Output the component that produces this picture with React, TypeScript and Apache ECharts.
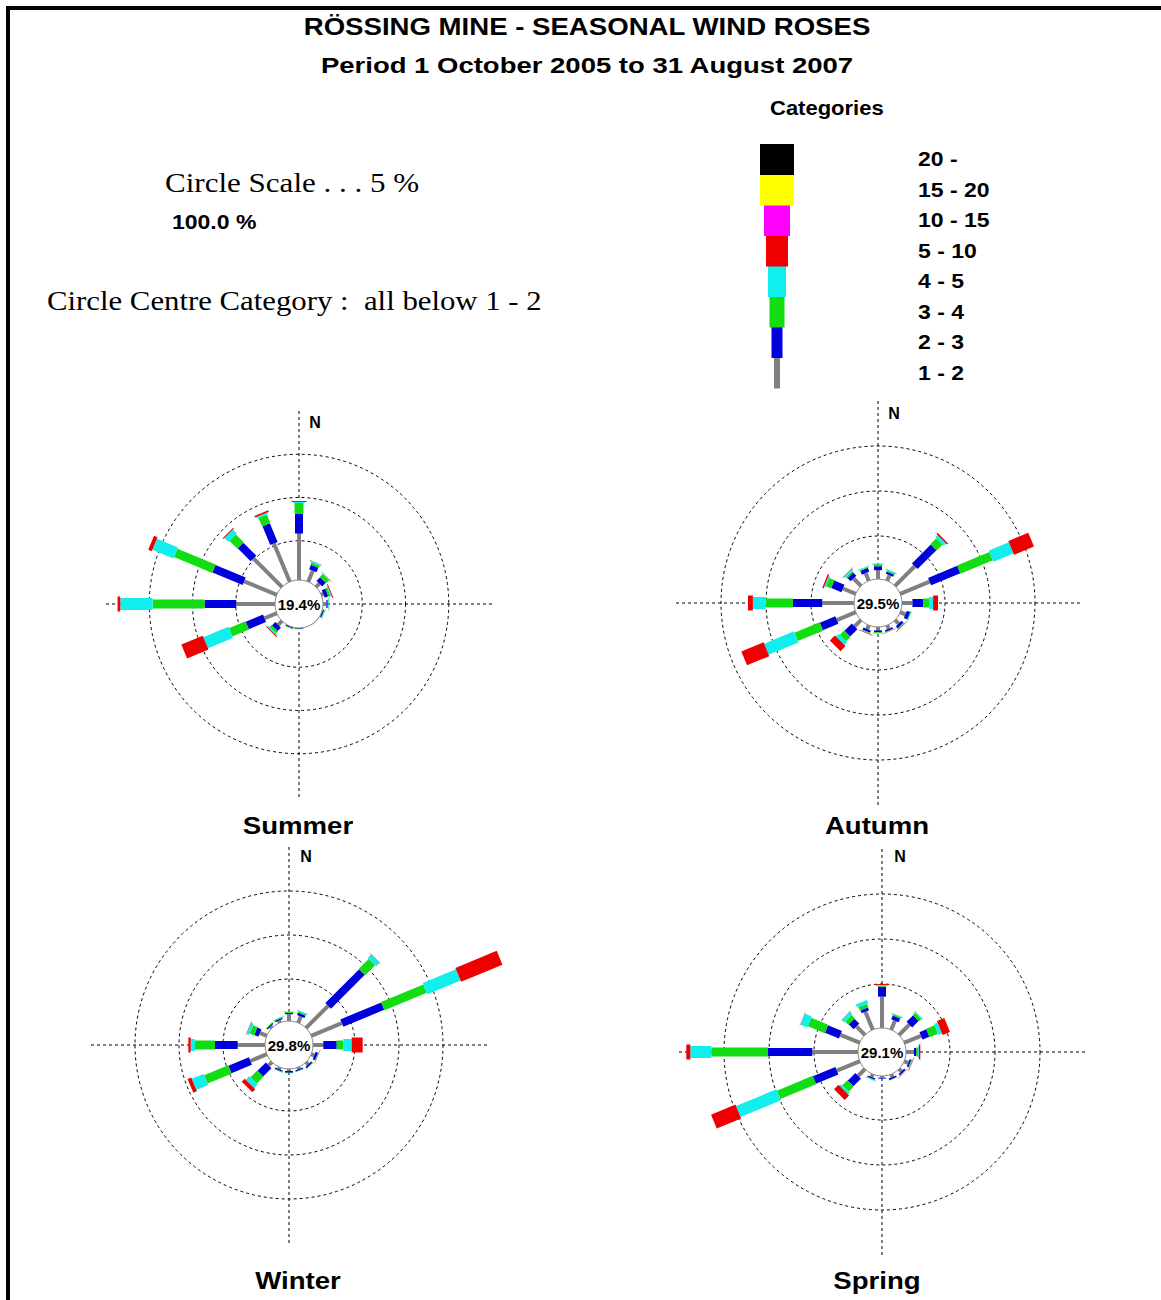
import React, { useEffect, useRef } from 'react';
import * as echarts from 'echarts';

// ---------- data ----------
const DIRECTIONS = ['N', 'NNE', 'NE', 'ENE', 'E', 'ESE', 'SE', 'SSE', 'S', 'SSW', 'SW', 'WSW', 'W', 'WNW', 'NW', 'NNW'];
const SPEED_CATEGORIES = ['1 - 2', '2 - 3', '3 - 4', '4 - 5', '5 - 10', '10 - 15', '15 - 20', '20 -'];
const SEASONS = ['Summer', 'Autumn', 'Winter', 'Spring'];
const CALM_PERCENT = [19.4, 29.5, 29.8, 29.1];

// rows: N..NNW ; columns: 1-2, 2-3, 3-4, 4-5, 5-10 (% of time)
const SUMMER = [
  [5.83, 2.31, 1.23, 0.12, 0.11],
  [1.85, 0.57, 0.28, 0.15, 0.03],
  [1.01, 0.6, 0.48, 0.08, 0.02],
  [0.73, 0.44, 0.25, 0.12, 0.1],
  [0.85, 0.15, 0.1, 0.05, 0.02],
  [0.5, 0.15, 0.1, 0.05, 0],
  [0.35, 0.1, 0.05, 0, 0],
  [0.3, 0.1, 0, 0, 0],
  [0.4, 0.15, 0.05, 0, 0],
  [0.45, 0.15, 0.05, 0.02, 0],
  [1.1, 0.55, 0.3, 0.2, 0.1],
  [2.0, 2.17, 2.08, 3.12, 2.68],
  [4.94, 3.66, 6.01, 3.74, 0.31],
  [4.55, 3.78, 4.78, 2.64, 0.44],
  [5.13, 2.12, 1.28, 0.65, 0.12],
  [5.27, 2.33, 1.07, 0.2, 0.2],
];
const AUTUMN = [
  [1.2, 0.44, 0.22, 0.08, 0],
  [0.9, 0.25, 0.15, 0.12, 0],
  [3.33, 2.96, 0.94, 0.35, 0.17],
  [3.76, 3.51, 3.89, 2.41, 2.4],
  [1.38, 1.19, 0.66, 0.45, 0.55],
  [0.85, 0.4, 0.1, 0.05, 0],
  [0.8, 0.3, 0.1, 0.05, 0.05],
  [0.65, 0.2, 0.05, 0.03, 0.03],
  [0.6, 0.2, 0.1, 0.05, 0],
  [0.7, 0.25, 0.1, 0.05, 0.05],
  [1.23, 1.15, 0.69, 0.42, 0.8],
  [2.51, 1.86, 3.03, 3.57, 2.68],
  [3.75, 3.26, 3.04, 1.41, 0.55],
  [1.77, 1.23, 0.62, 0.15, 0.16],
  [1.4, 0.5, 0.2, 0.2, 0.05],
  [1.15, 0.45, 0.1, 0.1, 0],
];
const WINTER = [
  [1.0, 0.15, 0.1, 0.05, 0],
  [1.0, 0.3, 0.15, 0.1, 0],
  [3.79, 5.44, 1.61, 0.52, 0.05],
  [4.0, 5.03, 5.21, 4.08, 5.08],
  [1.4, 1.52, 0.75, 0.95, 1.25],
  [0.6, 0.3, 0.05, 0.03, 0.03],
  [0.6, 0.2, 0.05, 0.03, 0],
  [0.45, 0.15, 0.05, 0, 0],
  [0.45, 0.2, 0.05, 0, 0],
  [0.45, 0.15, 0.1, 0, 0],
  [0.77, 1.34, 1.07, 0.59, 0.47],
  [2.25, 2.52, 2.96, 1.45, 0.44],
  [3.33, 2.58, 2.27, 0.49, 0.27],
  [1.08, 0.5, 0.55, 0.3, 0.05],
  [0.45, 0.15, 0.1, 0, 0],
  [0.5, 0.15, 0.1, 0.05, 0],
];
const SPRING = [
  [3.59, 1.11, 0.1, 0.1, 0.1],
  [1.2, 0.45, 0.15, 0.1, 0],
  [1.74, 1.04, 0.35, 0.13, 0],
  [2.13, 0.83, 1.02, 0.42, 0.88],
  [1.0, 0.26, 0.18, 0.1, 0.16],
  [0.6, 0.2, 0.1, 0.05, 0.05],
  [0.5, 0.2, 0.05, 0.03, 0.03],
  [0.45, 0.2, 0.05, 0, 0],
  [0.3, 0.1, 0, 0, 0],
  [0.45, 0.15, 0.1, 0.05, 0],
  [1.19, 1.21, 0.79, 0.25, 0.71],
  [2.87, 2.71, 4.3, 4.85, 2.93],
  [5.19, 4.92, 6.3, 2.33, 0.45],
  [2.44, 1.68, 2.04, 0.83, 0.03],
  [1.46, 0.78, 0.5, 0.4, 0.02],
  [2.28, 0.35, 0.4, 0.4, 0.02],
];
const SEASON_DATA = [SUMMER, AUTUMN, WINTER, SPRING];

const RING_INTERVAL = 5; // Circle scale 5 %
const AXIS_MAX = 20;

// ---------- styles / layout ----------
const CAT_COLORS = ['#808080', '#0000dd', '#11dd11', '#11eeee', '#ee0000', '#ff00ff', '#ffff00', '#000000'];
const SEG_WIDTH = [4, 8, 9, 12, 15, 17, 19, 21];
const LEGEND_WIDTH = [6, 11, 15, 18, 22, 26, 34, 34];
const ROSES = [
  { cx: 299, cy: 604, r0: 20, k: 8.65, label: [298, 826], n: [315, 422] },
  { cx: 878, cy: 603, r0: 22, k: 9.0, label: [877, 826], n: [894, 413] },
  { cx: 289, cy: 1045, r0: 22, k: 8.8, label: [298, 1281], n: [306, 856] },
  { cx: 882, cy: 1052, r0: 23, k: 9.0, label: [877, 1281], n: [900, 856] },
];
const CALM_R = 24;
const SANS = '"Liberation Sans", Arial, sans-serif';
const SERIF = '"Liberation Serif", "Times New Roman", serif';
const DASH = [3, 3];

function txt(text: string, x: number, y: number, font: string, align: string, scaleX = 1) {
  return {
    type: 'text',
    x,
    y,
    scaleX,
    style: {
      text,
      x: 0,
      y: 0,
      font,
      fill: '#000',
      align,
      textAlign: align,
      verticalAlign: 'middle',
      textVerticalAlign: 'middle',
    },
    silent: true,
  };
}

function buildOption() {
  const polar = ROSES.map((r) => ({ center: [r.cx, r.cy], radius: [r.r0, r.r0 + AXIS_MAX * r.k] }));
  const angleAxis = ROSES.map((_, i) => ({
    polarIndex: i,
    type: 'value',
    min: 0,
    max: 360,
    interval: 90,
    startAngle: 90,
    clockwise: true,
    axisLine: { show: false },
    axisTick: { show: false },
    axisLabel: { show: false },
    splitLine: { show: true, lineStyle: { color: '#000', width: 1, type: DASH } },
  }));
  const radiusAxis = ROSES.map((_, i) => ({
    polarIndex: i,
    type: 'value',
    min: 0,
    max: AXIS_MAX,
    interval: RING_INTERVAL,
    axisLine: { show: false },
    axisTick: { show: false },
    axisLabel: { show: false },
    splitLine: {
      show: true,
      lineStyle: {
        color: ['rgba(0,0,0,0)', '#000', '#000', '#000', 'rgba(0,0,0,0)'],
        width: 1,
        type: DASH,
      },
    },
  }));

  const renderSegment = (params: any, api: any) => {
    const a = api.value(0);
    const ang = api.value(1);
    const b = api.value(2);
    const cat = api.value(3);
    const p1 = api.coord([a, ang]);
    const p2 = api.coord([b, ang]);
    const dx = p2[0] - p1[0];
    const dy = p2[1] - p1[1];
    const len = Math.hypot(dx, dy);
    if (len < 0.01) return null;
    const hw = SEG_WIDTH[cat] / 2;
    const nx = (-dy / len) * hw;
    const ny = (dx / len) * hw;
    return {
      type: 'polygon',
      shape: {
        points: [
          [p1[0] + nx, p1[1] + ny],
          [p2[0] + nx, p2[1] + ny],
          [p2[0] - nx, p2[1] - ny],
          [p1[0] - nx, p1[1] - ny],
        ],
      },
      style: { fill: CAT_COLORS[cat] },
    };
  };

  const renderCalm = (params: any, api: any) => {
    const p0 = api.coord([0, 0]);
    const p1 = api.coord([0, 180]);
    const cx = (p0[0] + p1[0]) / 2;
    const cy = (p0[1] + p1[1]) / 2;
    const v = api.value(2);
    return {
      type: 'group',
      children: [
        { type: 'circle', shape: { cx, cy, r: CALM_R }, style: { fill: '#fff', stroke: '#8a8a8a', lineWidth: 1 } },
        {
          type: 'text',
          style: {
            text: v.toFixed(1) + '%',
            x: cx,
            y: cy,
            align: 'center',
            verticalAlign: 'middle',
            font: 'bold 15px ' + SANS,
            fill: '#000',
          },
        },
      ],
    };
  };

  const series: any[] = [];
  SEASON_DATA.forEach((rows, s) => {
    const segs: number[][] = [];
    rows.forEach((row, d) => {
      const angle = (360 / DIRECTIONS.length) * d;
      let cum = 0;
      row.forEach((v, c) => {
        if (v > 0) segs.push([cum, angle, cum + v, c]);
        cum += v;
      });
    });
    series.push({
      type: 'custom',
      name: SEASONS[s],
      coordinateSystem: 'polar',
      polarIndex: s,
      data: segs,
      renderItem: renderSegment,
      silent: true,
      z: 2,
    });
    series.push({
      type: 'custom',
      name: SEASONS[s] + ' calm',
      coordinateSystem: 'polar',
      polarIndex: s,
      data: [[0, 0, CALM_PERCENT[s]]],
      renderItem: renderCalm,
      silent: true,
      z: 3,
    });
  });

  const graphics: any[] = [];
  // frame
  graphics.push({ type: 'rect', shape: { x: 6, y: 6, width: 1155, height: 4 }, style: { fill: '#000' }, silent: true });
  graphics.push({ type: 'rect', shape: { x: 6, y: 6, width: 4, height: 1294 }, style: { fill: '#000' }, silent: true });
  // titles
  graphics.push(txt('RÖSSING MINE - SEASONAL WIND ROSES', 587, 27, 'bold 23px ' + SANS, 'center', 1.2));
  graphics.push(txt('Period 1 October 2005 to 31 August 2007', 587, 65, 'bold 22px ' + SANS, 'center', 1.25));
  // info
  graphics.push(txt('Circle Scale . . . 5 %', 165, 183, '27px ' + SERIF, 'left', 1.15));
  graphics.push(txt('100.0 %', 172, 222, 'bold 20px ' + SANS, 'left', 1.15));
  graphics.push(txt('Circle Centre Category :  all below 1 - 2', 47, 301, '27px ' + SERIF, 'left', 1.14));
  // legend
  graphics.push(txt('Categories', 770, 108, 'bold 20px ' + SANS, 'left', 1.1));
  const legendBottom = 388;
  const legendStep = 30.5;
  SPEED_CATEGORIES.forEach((lab, i) => {
    const top = legendBottom - legendStep * (i + 1);
    const w = LEGEND_WIDTH[i];
    graphics.push({
      type: 'rect',
      shape: { x: 777 - w / 2, y: top, width: w, height: legendStep + 0.5 },
      style: { fill: CAT_COLORS[i] },
      silent: true,
    });
    graphics.push(txt(lab, 918, top + legendStep / 2, 'bold 20px ' + SANS, 'left', 1.15));
  });
  // north labels and season labels
  ROSES.forEach((r, i) => {
    graphics.push(txt('N', r.n[0], r.n[1], 'bold 16px ' + SANS, 'center', 1));
    graphics.push(txt(SEASONS[i], r.label[0], r.label[1], 'bold 23px ' + SANS, 'center', 1.2));
  });

  return {
    animation: false,
    backgroundColor: '#fff',
    polar,
    angleAxis,
    radiusAxis,
    series,
    graphic: { elements: graphics },
  };
}

export default function App() {
  const ref = useRef<HTMLDivElement>(null);
  useEffect(() => {
    if (!ref.current) return;
    const chart = echarts.init(ref.current, null, { renderer: 'svg' });
    chart.setOption(buildOption() as any);
    return () => chart.dispose();
  }, []);
  return (
    <div
      ref={ref}
      style={{ position: 'absolute', left: 0, top: 0, width: 1161, height: 1300, background: '#fff' }}
    />
  );
}
